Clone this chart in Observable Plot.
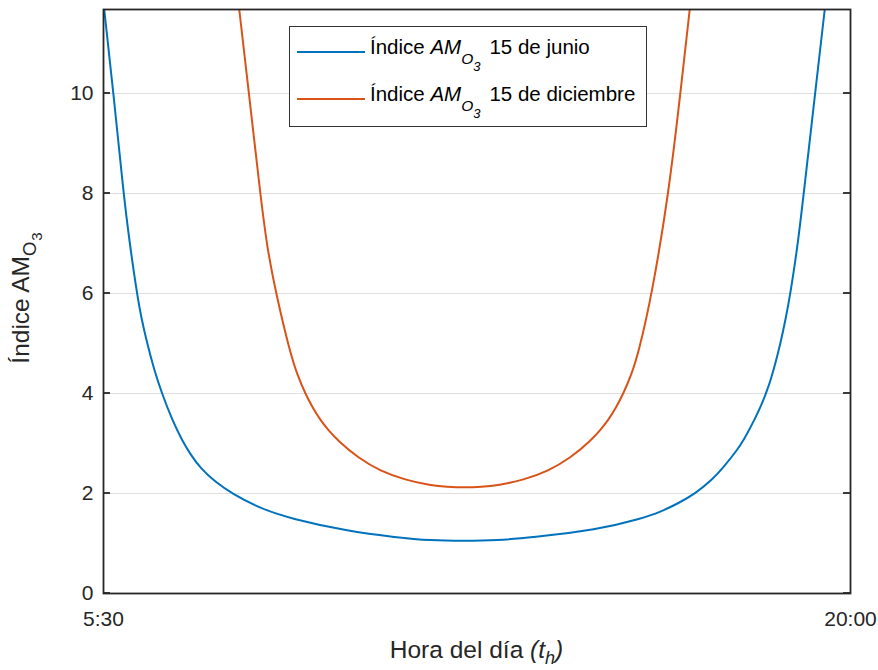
<!DOCTYPE html>
<html>
<head>
<meta charset="utf-8">
<script src="https://cdn.jsdelivr.net/npm/d3@7"></script>
<script src="https://cdn.jsdelivr.net/npm/@observablehq/plot@0.6"></script>
<style>
  body { margin: 0; background: #fff; }
  #chart { width: 878px; height: 670px; }
</style>
</head>
<body>
<div id="chart"></div>
<script>
// Air-mass index AM_O3 over the day (decimal hours), two dates
const juneHours = [5.514, 5.694, 5.888, 6.009, 6.149, 6.242, 6.349, 6.484, 6.634, 6.834, 7.022, 7.195, 7.378,
                   7.669, 7.993, 8.543, 9.125, 10.226, 11.197, 11.844, 12.494, 13.145, 13.785, 15.081, 15.955,
                   16.310, 16.650, 16.989, 17.319, 17.539, 17.793, 17.927, 18.154, 18.368, 18.504, 18.640,
                   18.737, 18.834, 18.980, 19.092, 19.313, 19.500];
const juneValues = [11.68, 10, 8, 7, 6, 5.47, 5, 4.47, 4, 3.47, 3.07, 2.77, 2.51,
                    2.23, 2, 1.70, 1.5, 1.25, 1.12, 1.06, 1.05, 1.06, 1.12, 1.27, 1.5,
                    1.63, 1.80, 2, 2.28, 2.53, 2.86, 3.07, 3.5, 4, 4.45, 5,
                    5.47, 6, 7, 8, 10, 11.68];
const decHours = [8.135, 8.323, 8.543, 8.673, 8.848, 9.125, 9.271, 9.417, 9.562, 9.708, 9.863, 10.048,
                  10.446, 10.873, 11.358, 11.844, 12.174, 12.504, 12.834, 13.164, 13.650, 14.135, 14.562,
                  14.960, 15.145, 15.300, 15.446, 15.591, 15.737, 15.883, 16.149, 16.471, 16.698, 16.879];
const decValues = [11.68, 10, 8, 6.93, 6, 4.80, 4.35, 4, 3.71, 3.47, 3.27, 3.06,
                   2.71, 2.45, 2.27, 2.165, 2.13, 2.12, 2.13, 2.165, 2.27, 2.45, 2.71,
                   3.06, 3.27, 3.47, 3.71, 4, 4.35, 4.80, 6, 8, 10, 11.68];

const seriesNames = ["15 de junio", "15 de diciembre"];
const seriesColors = ["#0072BD", "#D95319"];
const xTicks = [5.5, 20];
const xTickLabels = ["5:30", "20:00"];
const yTicks = [0, 2, 4, 6, 8, 10];

const rows = [
  ...juneHours.map((h, i) => ({serie: seriesNames[0], h, v: juneValues[i]})),
  ...decHours.map((h, i) => ({serie: seriesNames[1], h, v: decValues[i]}))
];

const font = "'Liberation Sans', Arial, Helvetica, sans-serif";
const axisColor = "#262626";

const chart = Plot.plot({
  width: 878,
  height: 670,
  marginLeft: 103,
  marginRight: 28,
  marginTop: 9,
  marginBottom: 77,
  style: {fontFamily: font, background: "#fff", color: axisColor},
  x: {domain: [5.5, 20]},
  y: {domain: [0, 11.68]},
  color: {domain: seriesNames, range: seriesColors},
  marks: [
    Plot.gridY(yTicks, {stroke: "#dedede", strokeOpacity: 1, strokeWidth: 1}),
    Plot.line(rows, {x: "h", y: "v", z: "serie", stroke: "serie", curve: "basis", strokeWidth: 2, clip: true}),
    Plot.axisY(yTicks, {tickSize: 0, tickPadding: 10, fontSize: 21, label: null, fill: axisColor,
                        tickFormat: d => String(d)}),
    Plot.axisX(xTicks, {tickSize: 0, tickPadding: 18, fontSize: 21, label: null, fill: axisColor,
                        tickFormat: d => xTickLabels[xTicks.indexOf(d)]}),
    Plot.frame({stroke: axisColor, strokeWidth: 1.8})
  ]
});

document.getElementById("chart").appendChild(chart);

const svg = d3.select(chart);
const ys = chart.scale("y");
const xs = chart.scale("x");
const [xl, xr] = xs.range;

// inward tick marks on both vertical edges
const tg = svg.append("g").attr("stroke", axisColor).attr("stroke-width", 1.8);
yTicks.forEach(t => {
  const y = ys.apply(t);
  tg.append("line").attr("x1", xl).attr("x2", xl + 7).attr("y1", y).attr("y2", y);
  tg.append("line").attr("x1", xr - 7).attr("x2", xr).attr("y1", y).attr("y2", y);
});

// x axis title
const xt = svg.append("text")
  .attr("x", (xl + xr) / 2).attr("y", 658)
  .attr("text-anchor", "middle")
  .attr("font-family", font).attr("font-size", 24.5).attr("fill", axisColor);
xt.append("tspan").text("Hora del día ");
xt.append("tspan").attr("font-style", "italic").text("(t");
xt.append("tspan").attr("font-style", "italic").attr("font-size", 18).attr("dy", 6).text("h");
xt.append("tspan").attr("font-style", "italic").attr("dy", -6).text(")");

// y axis title
const yt = svg.append("text")
  .attr("transform", "translate(29,298) rotate(-90)")
  .attr("text-anchor", "middle")
  .attr("font-family", font).attr("font-size", 24.5).attr("fill", axisColor);
yt.append("tspan").text("Índice AM");
yt.append("tspan").attr("font-size", 18.5).attr("dy", 7).text("O");
yt.append("tspan").attr("font-size", 15).attr("dy", 6).attr("dx", 1).text("3");

// legend
const lg = svg.append("g").attr("font-family", font).attr("fill", "#000").attr("text-anchor", "start");
lg.append("rect").attr("x", 289.5).attr("y", 26.5).attr("width", 357).attr("height", 100)
  .attr("fill", "#fff").attr("stroke", "#333").attr("stroke-width", 1);
const rowsY = [52, 99];
seriesNames.forEach((name, i) => {
  const y = rowsY[i];
  lg.append("line").attr("x1", 297).attr("x2", 365).attr("y1", y).attr("y2", y)
    .attr("stroke", seriesColors[i]).attr("stroke-width", 2);
  const t = lg.append("text").attr("x", 370).attr("y", y + 1.5)
    .attr("text-anchor", "start").attr("font-size", 20.5).attr("fill", "#000");
  t.append("tspan").text("Índice ");
  t.append("tspan").attr("font-style", "italic").text("AM");
  t.append("tspan").attr("font-style", "italic").attr("font-size", 15.5).attr("dy", 10).text("O");
  t.append("tspan").attr("font-style", "italic").attr("font-size", 13).attr("dy", 7).text("3");
  t.append("tspan").attr("dy", -17).attr("dx", 9).text(name);
});
</script>
</body>
</html>
